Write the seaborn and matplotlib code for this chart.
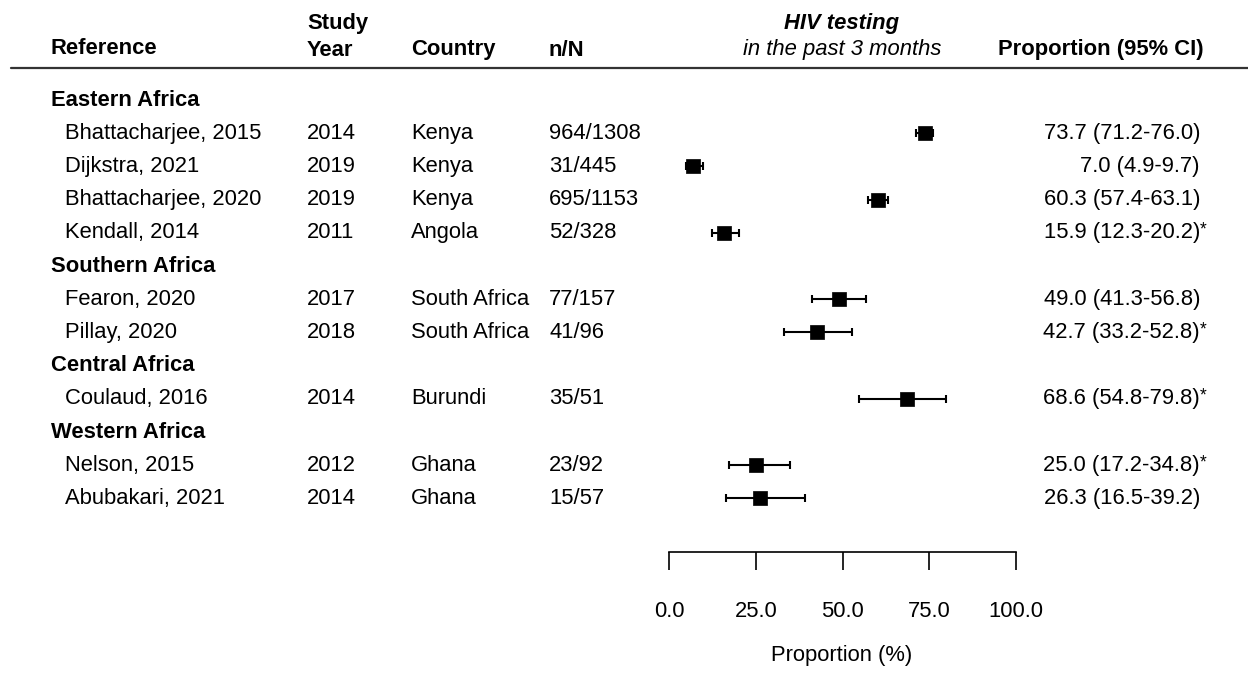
import numpy as np
import pandas as pd
import matplotlib
matplotlib.use("Agg")
import matplotlib.pyplot as plt
import seaborn as sns

# ------------------- Data ------------------- #
groups = ["Eastern Africa", "Southern Africa", "Central Africa", "Western Africa"]
study_group = ["Eastern Africa"] * 4 + ["Southern Africa"] * 2 + ["Central Africa"] + ["Western Africa"] * 2
references = ["Bhattacharjee, 2015", "Dijkstra, 2021", "Bhattacharjee, 2020", "Kendall, 2014",
              "Fearon, 2020", "Pillay, 2020", "Coulaud, 2016", "Nelson, 2015", "Abubakari, 2021"]
study_years = ["2014", "2019", "2019", "2011", "2017", "2018", "2014", "2012", "2014"]
countries = ["Kenya", "Kenya", "Kenya", "Angola", "South Africa", "South Africa",
             "Burundi", "Ghana", "Ghana"]
n_over_N = ["964/1308", "31/445", "695/1153", "52/328", "77/157", "41/96", "35/51", "23/92", "15/57"]
proportion = [73.7, 7.0, 60.3, 15.9, 49.0, 42.7, 68.6, 25.0, 26.3]
ci_low = [71.2, 4.9, 57.4, 12.3, 41.3, 33.2, 54.8, 17.2, 16.5]
ci_high = [76.0, 9.7, 63.1, 20.2, 56.8, 52.8, 79.8, 34.8, 39.2]
flagged = [False, False, False, True, False, True, True, True, False]
x_ticks = [0, 25, 50, 75, 100]

# ------------------- Layout helpers ------------------- #
W, H = 1248, 674
ROW0, ROW_H = 100, 33.2
FS = 15.8


def fx(x):
    return x / W


def fy(y):
    return 1 - y / H


# row index for every line of the table (group header + its studies)
rows = []
r = 0
for g in groups:
    rows.append(("group", g, r))
    r += 1
    for i, sg in enumerate(study_group):
        if sg == g:
            rows.append(("study", i, r))
            r += 1

df = pd.DataFrame({
    "reference": references,
    "year": study_years,
    "country": countries,
    "nN": n_over_N,
    "prop": proportion,
    "lo": ci_low,
    "hi": ci_high,
    "flag": flagged,
})
df["row"] = [rr for kind, i, rr in rows if kind == "study"]

sns.set_theme(style="white")
plt.rcParams["font.family"] = ["Liberation Sans", "DejaVu Sans"]
plt.rcParams["text.color"] = "black"
plt.rcParams["xtick.color"] = "black"
plt.rcParams["axes.labelcolor"] = "black"

fig = plt.figure(figsize=(W / 100, H / 100), dpi=100)

# ------------------- Header ------------------- #
fig.text(fx(51), fy(49), "Reference", fontsize=FS, fontweight="bold", va="center")
fig.text(fx(307), fy(23), "Study", fontsize=FS, fontweight="bold", va="center")
fig.text(fx(307), fy(50), "Year", fontsize=FS, fontweight="bold", va="center")
fig.text(fx(411), fy(50), "Country", fontsize=FS, fontweight="bold", va="center")
fig.text(fx(549), fy(50), "n/N", fontsize=FS, fontweight="bold", va="center")
fig.text(fx(842), fy(23), "HIV testing", fontsize=FS, fontweight="bold", style="italic",
         ha="center", va="center")
fig.text(fx(842), fy(50), "in the past 3 months", fontsize=FS, style="italic",
         ha="center", va="center")
fig.text(fx(1204), fy(50), "Proportion (95% CI)", fontsize=FS, fontweight="bold",
         ha="right", va="center")
fig.add_artist(plt.Line2D([fx(11), 1.0], [fy(68), fy(68)], color="#333333", lw=1.6))

# ------------------- Table text ------------------- #
for kind, i, rr in rows:
    y = fy(ROW0 + ROW_H * rr)
    if kind == "group":
        fig.text(fx(51), y, i, fontsize=FS, fontweight="bold", va="center")
        continue
    rec = df.iloc[i]
    fig.text(fx(65), y, rec["reference"], fontsize=FS, va="center")
    fig.text(fx(307), y, rec["year"], fontsize=FS, va="center")
    fig.text(fx(411), y, rec["country"], fontsize=FS, va="center")
    fig.text(fx(549), y, rec["nN"], fontsize=FS, va="center")
    fig.text(fx(1200), y, f"{rec['prop']:.1f} ({rec['lo']:.1f}-{rec['hi']:.1f})",
             fontsize=FS, ha="right", va="center")
    if rec["flag"]:
        fig.text(fx(1200), y + 0.004, "*", fontsize=FS * 0.8, ha="left", va="center")

# ------------------- Forest plot ------------------- #
ax = fig.add_axes([fx(669), 0, (1016 - 669) / W, 1])
ax.set_facecolor("none")
ax.errorbar(df["prop"], df["row"], xerr=[df["prop"] - df["lo"], df["hi"] - df["prop"]],
            fmt="none", ecolor="black", elinewidth=1.5, capsize=3, capthick=1.5, clip_on=False)
sns.scatterplot(data=df, x="prop", y="row", marker="s", s=95, color="black",
                edgecolor="black", linewidth=0.5, ax=ax, zorder=3, clip_on=False)

ax.set_xlim(0, 100)
ax.set_ylim((H - ROW0) / ROW_H, -ROW0 / ROW_H)
for side in ["left", "top", "right"]:
    ax.spines[side].set_visible(False)
ax.spines["bottom"].set_position(("data", (552 - ROW0) / ROW_H))
ax.spines["bottom"].set_color("black")
ax.spines["bottom"].set_linewidth(1.2)
ax.set_yticks([])
ax.set_xticks(x_ticks)
ax.set_xticklabels([f"{t:.1f}" for t in x_ticks])
ax.tick_params(axis="x", direction="out", length=13, width=1.2, color="black",
               labelsize=FS, pad=22, bottom=True)
ax.set_xlabel("")
ax.set_ylabel("")
fig.text(fx(842), fy(655), "Proportion (%)", fontsize=FS, ha="center", va="center")

fig.savefig("out.png", dpi=100)
